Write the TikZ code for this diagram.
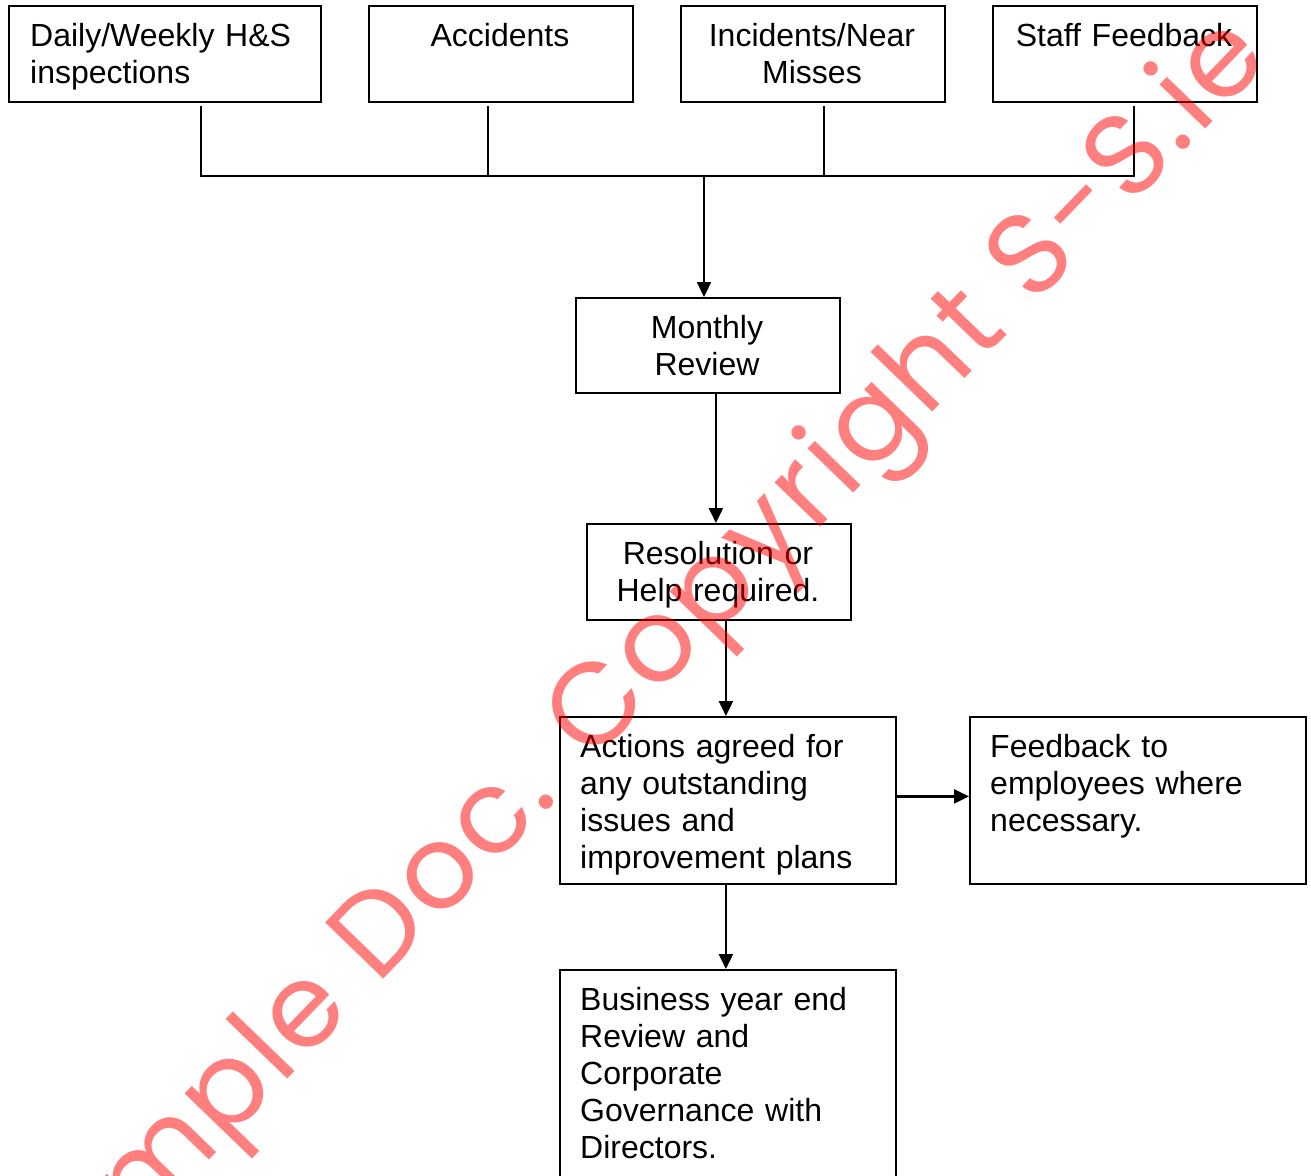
\documentclass[tikz,border=0pt]{standalone}
\usepackage{fontspec}
\setmainfont{Liberation Sans}
\newfontfamily\wmfont[LetterSpace=3]{Poppins}
\usetikzlibrary{arrows.meta}
\begin{document}
\begin{tikzpicture}[x=1pt,y=-1pt,
  box/.style={draw, line width=1.8pt, inner sep=0pt, anchor=north west},
  txt/.style={inner sep=0pt, font=\fontsize{32}{37}\selectfont},
  ltxt/.style={txt, anchor=base west, align=left, text width=300pt},
  ctxt/.style={txt, anchor=base, align=center, text width=250pt},
  conn/.style={line width=1.8pt},
  arr/.style={line width=2.2pt, -{Triangle[length=15pt,width=14pt]}},
  wm/.style={inner sep=0pt, text=red, opacity=0.5, font=\wmfont\fontsize{116}{116}\selectfont, rotate=46, anchor=base}
]
\clip (0,0) rectangle (1311,1175);
\fill[white] (0,0) rectangle (1311,1175);

% boxes
\node[box, minimum width=312pt, minimum height=96pt] (b1) at (8,5) {};
\node[box, minimum width=264pt, minimum height=96pt] (b2) at (368,5) {};
\node[box, minimum width=264pt, minimum height=96pt] (b3) at (680,5) {};
\node[box, minimum width=264pt, minimum height=96pt] (b4) at (992,5) {};
\node[box, minimum width=264pt, minimum height=95pt] (mr) at (575,297) {};
\node[box, minimum width=264pt, minimum height=96pt] (res) at (586,523) {};
\node[box, minimum width=336pt, minimum height=167pt] (act) at (559,716) {};
\node[box, minimum width=336pt, minimum height=167pt] (fb) at (969,716) {};
\node[box, minimum width=336pt, minimum height=240pt] (biz) at (559,969) {};

% texts
\node[ltxt] (t1) at (30,46) {Daily/Weekly H\&S\\inspections};
\node[ctxt] (t2) at (500,46) {Accidents};
\node[ctxt] (t3) at (812,46) {Incidents/Near\\Misses};
\node[ctxt] (t4) at (1124,46) {Staff Feedback};
\node[ctxt] (t5) at (707,338) {Monthly\\Review};
\node[ctxt] (t6) at (718,564) {Resolution or\\Help required.};
\node[ltxt] (t7) at (580,757) {Actions agreed for\\any outstanding\\issues and\\improvement plans};
\node[ltxt] (t8) at (990,757) {Feedback to\\employees where\\necessary.};
\node[ltxt] (t9) at (580,1010) {Business year end\\Review and\\Corporate\\Governance with\\Directors.};

% connectors
\coordinate (bus) at (704,176);
\draw[conn] ([xshift=36pt,yshift=-3pt]b1.south) |- (bus) -| ([xshift=9pt,yshift=-3pt]b4.south);
\draw[conn] ([xshift=-13pt,yshift=-3pt]b2.south) -- ([xshift=-13pt]b2.south |- bus);
\draw[conn] ([xshift=11pt,yshift=-3pt]b3.south) -- ([xshift=11pt]b3.south |- bus);
\draw[arr] (bus) -- (bus |- mr.north);
\draw[arr] ([xshift=8pt]mr.south) -- ([xshift=8pt]mr.south |- res.north);
\draw[arr] ([xshift=7pt]res.south) -- ([xshift=7pt]res.south |- act.north);
\draw[arr] ([yshift=4pt]act.east) -- ([yshift=4pt]act.east -| fb.west);
\draw[arr] ([xshift=-2pt]act.south) -- ([xshift=-2pt]act.south |- biz.north);

% watermark
\node[wm] (wmark) at (652,702) {Sample Doc. Copyright S-S.ie};
\end{tikzpicture}
\end{document}
